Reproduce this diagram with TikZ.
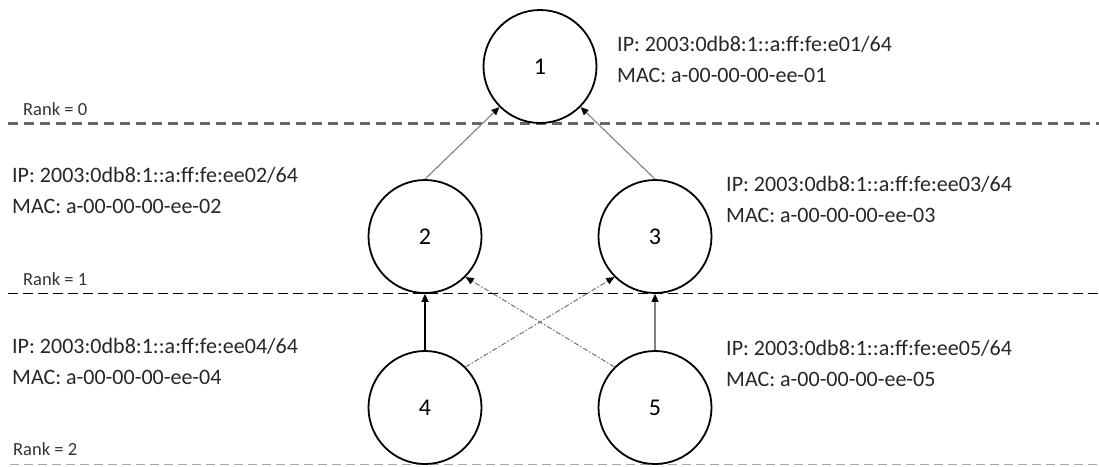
\documentclass[tikz,border=0pt]{standalone}
\usepackage{fontspec}
\setmainfont{Carlito}
\usetikzlibrary{arrows.meta}
\begin{document}
\begin{tikzpicture}[x=1pt,y=-1pt,
  rnode/.style={circle,draw=black,line width=1.8pt,minimum size=113pt,inner sep=0pt,font=\fontsize{24}{28}\selectfont},
  info/.style={anchor=base west,inner sep=0pt,align=left,text=black!85,font=\fontsize{22}{31}\selectfont},
  ranklbl/.style={anchor=base west,inner sep=0pt,text=black!80,font=\fontsize{18.5}{22}\selectfont},
  tip/.style={-{Triangle[length=8pt,width=7pt,color=black]}},
  graylink/.style={tip,draw=black!50,line width=1.1pt},
  blacklink/.style={tip,draw=black,line width=1.6pt},
  dashlink/.style={tip,draw=black!55,line width=1pt,dash pattern=on 5pt off 2pt on 1.5pt off 2pt},
  rank0/.style={draw=black!60,line width=3pt,dash pattern=on 10pt off 6pt},
  rank1/.style={draw=black,line width=1.5pt,dash pattern=on 10pt off 5pt},
  rank2/.style={draw=black!35,line width=1pt,dash pattern=on 9pt off 5pt}]
\useasboundingbox (0,0) rectangle (1099,466);
% rank lines
\coordinate (r0a) at (8,123);   \coordinate (r0b) at (1099,123);
\coordinate (r1a) at (8,293.5); \coordinate (r1b) at (1099,293.5);
\coordinate (r2a) at (10,464);  \coordinate (r2b) at (1099,464);
\draw[rank0] (r0a) -- (r0b);
\draw[rank1] (r1a) -- (r1b);
\draw[rank2] (r2a) -- (r2b);
\node[ranklbl] (l0) at (23,115) {Rank = 0};
\node[ranklbl] (l1) at (23,285) {Rank = 1};
\node[ranklbl] (l2) at (13,455) {Rank = 2};
% nodes
\node[rnode,fill=white] (n1) at (540,66.5) {1};
\node[rnode,fill=white] (n2) at (425,236.5) {2};
\node[rnode,fill=white] (n3) at (655,236.5) {3};
\node[rnode,fill=white] (n4) at (425,407.5) {4};
\node[rnode,fill=white] (n5) at (655,407.5) {5};
% links
\draw[graylink] (n2.north) -- (n1.south west);
\draw[graylink] (n3.north) -- (n1.south east);
\draw[blacklink] (n4.north) -- (n2.south);
\draw[graylink] (n5.north) -- (n3.south);
\draw[dashlink] (n4.north east) -- (n3.south west);
\draw[dashlink] (n5.north west) -- (n2.south east);
% info texts (anchored at the baseline of the last line)
\node[info] (t1) at (617,82) {IP: 2003:0db8:1::a:ff:fe:e01/64\\MAC: a-00-00-00-ee-01};
\node[info] (t2) at (12,213) {IP: 2003:0db8:1::a:ff:fe:ee02/64\\MAC: a-00-00-00-ee-02};
\node[info] (t3) at (726,222) {IP: 2003:0db8:1::a:ff:fe:ee03/64\\MAC: a-00-00-00-ee-03};
\node[info] (t4) at (12,384) {IP: 2003:0db8:1::a:ff:fe:ee04/64\\MAC: a-00-00-00-ee-04};
\node[info] (t5) at (726,386) {IP: 2003:0db8:1::a:ff:fe:ee05/64\\MAC: a-00-00-00-ee-05};
\end{tikzpicture}
\end{document}
